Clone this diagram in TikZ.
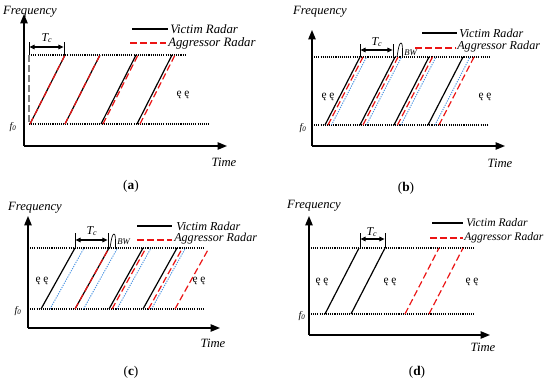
\documentclass[tikz,border=0pt]{standalone}
\usepackage{fontspec}
\setmainfont{Liberation Serif}
\usetikzlibrary{arrows.meta}
\definecolor{chirpblue}{RGB}{70,145,225}
\definecolor{aggred}{RGB}{235,20,20}
\tikzset{
  victim/.style={black, line width=0.9pt},
  aggr/.style={aggred, line width=0.9pt, dash pattern=on 5pt off 2.5pt},
  shifted/.style={chirpblue, line width=0.7pt, dash pattern=on 0.9pt off 0.9pt},
  gridline/.style={black, line width=0.8pt, dash pattern=on 0.8pt off 0.8pt},
  axisline/.style={black, line width=1pt, -{Triangle[length=7pt,width=5.5pt]}},
  tcarrow/.style={black, line width=0.8pt, {Triangle[length=4pt,width=3.5pt]}-{Triangle[length=4pt,width=3.5pt]}},
  bar/.style={black, line width=0.7pt},
  lbl/.style={inner sep=0pt, font=\fontsize{9.5}{11}\selectfont\itshape},
  leg/.style={inner sep=0pt, anchor=west, font=\fontsize{#1}{11}\selectfont\itshape},
  leg/.default=9.6,
  small/.style={inner sep=0pt, font=\fontsize{7.5}{9}\selectfont\itshape},
  dots/.style={inner sep=0pt, font=\fontsize{8.5}{10}\selectfont},
  captext/.style={inner sep=0pt, font=\fontsize{10}{12}\selectfont},
}
\begin{document}
\begin{tikzpicture}[x=0.75pt,y=-0.75pt]
\useasboundingbox (0,0) rectangle (550,382);
% ================= (a) =================
\coordinate (aO) at (24,146);
\coordinate (aY) at (24,14);
\coordinate (aX) at (227,146);
\draw[axisline] (aO) -- (aY);
\draw[axisline] (aO) -- (aX);
\draw[gridline] (29,55) -- (186,55);
\draw[gridline] (29,124) -- (209,124);
\draw[gray, line width=0.8pt, dash pattern=on 5pt off 2.5pt] (29,55) -- (29,124);
\foreach \b in {30,65,101,137} \draw[victim] (\b,124) -- ++(35,-69);
\foreach \b in {30,65,103,140} \draw[aggr] (\b,124) -- ++(35,-69);
\draw[bar] (29,42) -- (29,55);
\draw[bar] (64,42) -- (64,55);
\draw[tcarrow] (29.4,47) -- (63.6,47);
\node[small] (aTc) at (47,38) {\fontsize{9}{10}\selectfont T\textsubscript{c}};
\node[lbl] (aFreq) at (30,12) {Frequency};
\node[lbl] (aTime) at (224,162) {Time};
\node[small] (aF0) at (13,127) {f\textsubscript{0}};
\node[dots] (aDots) at (183,95) {ę ę};
\draw[victim] (132,29) -- (168,29);
\node[leg] (aVic) at (170,29) {Victim Radar};
\draw[aggr] (130,43) -- (166,43);
\node[leg] (aAgg) at (168,43) {Aggressor Radar};
\node[captext] (aCap) at (131,186) {(\textbf{a})};
% ================= (b) =================
\coordinate (bO) at (312,146);
\coordinate (bY) at (312,30);
\coordinate (bX) at (505,146);
\draw[axisline] (bO) -- (bY);
\draw[axisline] (bO) -- (bX);
\draw[gridline] (312,57) -- (490,57);
\draw[gridline] (312,125) -- (489,125);
\foreach \b in {325,360,394,428} \draw[victim] (\b,125) -- ++(35,-68);
\foreach \b in {328,363,397.5,439} \draw[aggr] (\b,125) -- ++(35,-68);
\foreach \b in {331.5,366.5,401,435} \draw[shifted] (\b,125) -- ++(35,-68);
\draw[bar] (360,44) -- (360,57);
\draw[bar] (393,44) -- (393,57);
\draw[tcarrow] (360.4,50) -- (392.6,50);
\node[small] (bTc) at (377,42) {\fontsize{9}{10}\selectfont T\textsubscript{c}};
\draw[bar, line width=0.5pt] (397,57) .. controls (398.5,47) and (399.5,43) .. (401,43) .. controls (402.5,43) and (402.5,47) .. (402.5,57);
\node[small, anchor=west] (bBW) at (404,53) {\fontsize{6.5}{8}\selectfont BW};
\node[lbl] (bFreq) at (320,12) {Frequency};
\node[lbl] (bTime) at (500,163) {Time};
\node[small] (bF0) at (303,128) {f\textsubscript{0}};
\node[dots] (bDots1) at (328,97) {ę ę};
\node[dots] (bDots2) at (485,97) {ę ę};
\draw[victim] (422,33) -- (457,33);
\node[leg=9.1] (bVic) at (459,33) {Victim Radar};
\draw[aggr] (415,48) -- (456,48);
\node[leg=9.1] (bAgg) at (457,47) {Aggressor Radar};
\node[captext] (bCap) at (406,188) {(\textbf{b})};
% ================= (c) =================
\coordinate (cO) at (28,328);
\coordinate (cY) at (28,216);
\coordinate (cX) at (220,328);
\draw[axisline] (cO) -- (cY);
\draw[axisline] (cO) -- (cX);
\draw[gridline] (28,248) -- (205,248);
\draw[gridline] (28,309) -- (203,309);
\foreach \b in {41,75,109,143} \draw[victim] (\b,309) -- ++(34,-61);
\foreach \b in {75,112,148.5,175} \draw[aggr] (\b,309) -- ++(34,-61);
\foreach \b in {50,83.5,117,151.5} \draw[shifted] (\b,309) -- ++(34,-61);
\draw[bar] (75,233) -- (75,248);
\draw[bar] (108,233) -- (108,248);
\draw[tcarrow] (75.4,240) -- (107.6,240);
\node[small] (cTc) at (92,231) {\fontsize{9}{10}\selectfont T\textsubscript{c}};
\draw[bar, line width=0.5pt] (110,248) .. controls (111.5,238) and (112.5,234) .. (114,234) .. controls (115.5,234) and (115.5,238) .. (115.5,248);
\node[small, anchor=west] (cBW) at (117,242) {\fontsize{6.5}{8}\selectfont BW};
\node[lbl] (cFreq) at (35,208) {Frequency};
\node[lbl] (cTime) at (213,343) {Time};
\node[small] (cF0) at (18,311) {f\textsubscript{0}};
\node[dots] (cDots1) at (42,281) {ę ę};
\node[dots] (cDots2) at (199,281) {ę ę};
\draw[victim] (137,226) -- (172,226);
\node[leg=9.1] (cVic) at (176,226) {Victim Radar};
\draw[aggr] (137,240) -- (172,240);
\node[leg=9.1] (cAgg) at (174,239) {Aggressor Radar};
\node[captext] (cCap) at (131,372) {(\textbf{c})};
% ================= (d) =================
\coordinate (dO) at (309,335);
\coordinate (dY) at (309,216);
\coordinate (dX) at (490,335);
\draw[axisline] (dO) -- (dY);
\draw[axisline] (dO) -- (dX);
\draw[gridline] (311,248) -- (475,248);
\draw[gridline] (311,314) -- (474,314);
\foreach \b in {325,351} \draw[victim] (\b,314) -- ++(34,-66);
\foreach \b in {405,429} \draw[aggr] (\b,314) -- ++(34,-66);
\draw[bar] (360,233) -- (360,248);
\draw[bar] (385,233) -- (385,248);
\draw[tcarrow] (360.4,239) -- (384.6,239);
\node[small] (dTc) at (372,232) {\fontsize{9}{10}\selectfont T\textsubscript{c}};
\node[lbl] (dFreq) at (314,206) {Frequency};
\node[lbl] (dTime) at (483,347) {Time};
\node[small] (dF0) at (302,316) {f\textsubscript{0}};
\node[dots] (dDots1) at (322,282) {ę ę};
\node[dots] (dDots2) at (390,282) {ę ę};
\node[dots] (dDots3) at (472,282) {ę ę};
\draw[victim] (432,223) -- (463,223);
\node[leg=8.7] (dVic) at (466,223) {Victim Radar};
\draw[aggr] (430,238) -- (463,238);
\node[leg=8.7] (dAgg) at (464,238) {Aggressor Radar};
\node[captext] (dCap) at (417,372) {(\textbf{d})};
\end{tikzpicture}
\end{document}
